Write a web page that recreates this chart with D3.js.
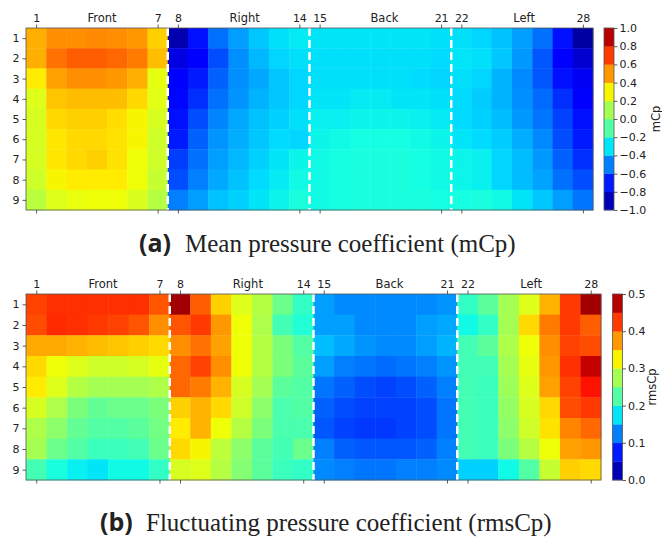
<!DOCTYPE html>
<html>
<head>
<meta charset="utf-8">
<script src="https://cdn.jsdelivr.net/npm/d3@7"></script>
<style>
  body { margin: 0; background: #fff; }
  svg text { font-family: "DejaVu Sans", sans-serif; fill: #222; }
</style>
</head>
<body>
<div id="chart"></div>
<script>
// tap numbers (columns) and level numbers (rows)
var rowLabels = [1, 2, 3, 4, 5, 6, 7, 8, 9];
var colTicks = [1, 7, 8, 14, 15, 21, 22, 28];
var faceNames = ["Front", "Right", "Back", "Left"];
var faceLabelPos = [4.25, 11.3, 18.2, 25.1];
var faceBreaks = [7.5, 14.5, 21.5];

// mean pressure coefficient, rows 1..9, 7 taps per face
var mcpFront = [
  [0.45, 0.52, 0.52, 0.53, 0.52, 0.50, 0.38],
  [0.45, 0.58, 0.62, 0.62, 0.60, 0.56, 0.42],
  [0.32, 0.48, 0.52, 0.52, 0.50, 0.45, 0.26],
  [0.24, 0.40, 0.42, 0.42, 0.42, 0.36, 0.25],
  [0.22, 0.36, 0.38, 0.38, 0.35, 0.30, 0.22],
  [0.22, 0.33, 0.36, 0.36, 0.34, 0.30, 0.20],
  [0.22, 0.33, 0.36, 0.38, 0.34, 0.28, 0.20],
  [0.20, 0.30, 0.32, 0.32, 0.32, 0.28, 0.18],
  [0.15, 0.24, 0.27, 0.28, 0.28, 0.23, 0.14]
];
var mcpRight = [
  [-0.92, -0.72, -0.53, -0.44, -0.36, -0.31, -0.29],
  [-0.83, -0.75, -0.60, -0.47, -0.39, -0.33, -0.31],
  [-0.76, -0.70, -0.56, -0.47, -0.42, -0.36, -0.33],
  [-0.74, -0.66, -0.53, -0.46, -0.40, -0.36, -0.33],
  [-0.72, -0.60, -0.49, -0.42, -0.37, -0.34, -0.31],
  [-0.70, -0.56, -0.46, -0.41, -0.36, -0.32, -0.33],
  [-0.63, -0.53, -0.44, -0.39, -0.34, -0.30, -0.27],
  [-0.60, -0.50, -0.42, -0.37, -0.32, -0.29, -0.26],
  [-0.50, -0.44, -0.37, -0.34, -0.30, -0.27, -0.24]
];
var mcpBack = [
  [-0.30, -0.30, -0.30, -0.30, -0.30, -0.30, -0.31],
  [-0.31, -0.31, -0.31, -0.31, -0.31, -0.31, -0.32],
  [-0.31, -0.31, -0.31, -0.31, -0.31, -0.32, -0.33],
  [-0.30, -0.30, -0.29, -0.29, -0.30, -0.30, -0.31],
  [-0.28, -0.28, -0.27, -0.27, -0.27, -0.28, -0.29],
  [-0.27, -0.26, -0.25, -0.25, -0.25, -0.26, -0.27],
  [-0.26, -0.25, -0.24, -0.24, -0.24, -0.25, -0.26],
  [-0.26, -0.25, -0.24, -0.24, -0.24, -0.25, -0.26],
  [-0.26, -0.25, -0.24, -0.24, -0.24, -0.24, -0.25]
];
var mcpLeft = [
  [-0.31, -0.33, -0.37, -0.44, -0.53, -0.72, -0.94],
  [-0.30, -0.31, -0.36, -0.45, -0.58, -0.75, -0.86],
  [-0.31, -0.33, -0.40, -0.48, -0.58, -0.72, -0.80],
  [-0.32, -0.35, -0.40, -0.47, -0.54, -0.66, -0.76],
  [-0.32, -0.34, -0.38, -0.45, -0.52, -0.62, -0.72],
  [-0.30, -0.32, -0.35, -0.41, -0.48, -0.60, -0.70],
  [-0.27, -0.28, -0.33, -0.38, -0.45, -0.56, -0.66],
  [-0.27, -0.28, -0.33, -0.38, -0.43, -0.53, -0.60],
  [-0.25, -0.24, -0.26, -0.30, -0.36, -0.44, -0.52]
];

// fluctuating (rms) pressure coefficient
var rmsFront = [
  [0.42, 0.43, 0.43, 0.43, 0.43, 0.43, 0.41],
  [0.415, 0.433, 0.43, 0.425, 0.42, 0.41, 0.38],
  [0.365, 0.365, 0.36, 0.355, 0.35, 0.345, 0.34],
  [0.34, 0.32, 0.31, 0.30, 0.30, 0.305, 0.315],
  [0.33, 0.31, 0.285, 0.275, 0.275, 0.275, 0.28],
  [0.305, 0.28, 0.25, 0.235, 0.24, 0.24, 0.25],
  [0.28, 0.26, 0.235, 0.225, 0.225, 0.23, 0.245],
  [0.275, 0.24, 0.225, 0.21, 0.21, 0.215, 0.24],
  [0.215, 0.19, 0.18, 0.175, 0.185, 0.185, 0.205]
];
var rmsRight = [
  [0.485, 0.405, 0.345, 0.31, 0.285, 0.24, 0.205],
  [0.41, 0.425, 0.375, 0.32, 0.28, 0.215, 0.195],
  [0.38, 0.395, 0.37, 0.32, 0.285, 0.25, 0.225],
  [0.40, 0.42, 0.38, 0.32, 0.285, 0.25, 0.23],
  [0.40, 0.39, 0.36, 0.305, 0.275, 0.23, 0.225],
  [0.345, 0.36, 0.34, 0.30, 0.26, 0.22, 0.225],
  [0.33, 0.36, 0.32, 0.285, 0.25, 0.22, 0.22],
  [0.34, 0.325, 0.29, 0.26, 0.23, 0.215, 0.24],
  [0.305, 0.31, 0.285, 0.255, 0.23, 0.21, 0.205]
];
var rmsBack = [
  [0.14, 0.13, 0.13, 0.13, 0.13, 0.13, 0.135],
  [0.14, 0.14, 0.13, 0.13, 0.13, 0.14, 0.145],
  [0.155, 0.145, 0.135, 0.13, 0.13, 0.14, 0.15],
  [0.14, 0.125, 0.12, 0.115, 0.12, 0.125, 0.135],
  [0.12, 0.11, 0.10, 0.095, 0.10, 0.11, 0.125],
  [0.11, 0.10, 0.095, 0.095, 0.095, 0.10, 0.12],
  [0.105, 0.095, 0.09, 0.09, 0.095, 0.10, 0.12],
  [0.125, 0.11, 0.105, 0.105, 0.105, 0.11, 0.125],
  [0.13, 0.125, 0.12, 0.12, 0.125, 0.125, 0.13]
];
var rmsLeft = [
  [0.205, 0.23, 0.275, 0.31, 0.36, 0.425, 0.485],
  [0.185, 0.205, 0.275, 0.34, 0.39, 0.425, 0.405],
  [0.215, 0.23, 0.28, 0.32, 0.38, 0.42, 0.415],
  [0.215, 0.215, 0.275, 0.315, 0.375, 0.43, 0.47],
  [0.215, 0.21, 0.27, 0.31, 0.37, 0.42, 0.445],
  [0.215, 0.21, 0.265, 0.305, 0.34, 0.415, 0.425],
  [0.215, 0.21, 0.26, 0.30, 0.335, 0.385, 0.40],
  [0.215, 0.21, 0.25, 0.285, 0.32, 0.37, 0.375],
  [0.165, 0.165, 0.185, 0.225, 0.295, 0.345, 0.34]
];

var mcpTicks = [-1.0, -0.8, -0.6, -0.4, -0.2, 0.0, 0.2, 0.4, 0.6, 0.8, 1.0];
var rmsTicks = [0.0, 0.1, 0.2, 0.3, 0.4, 0.5];

// matplotlib "jet"
var jetR = d3.scaleLinear().domain([0, 0.35, 0.66, 0.89, 1]).range([0, 0, 1, 1, 0.5]).clamp(true);
var jetG = d3.scaleLinear().domain([0, 0.125, 0.375, 0.64, 0.91, 1]).range([0, 0, 1, 1, 0, 0]).clamp(true);
var jetB = d3.scaleLinear().domain([0, 0.11, 0.34, 0.65, 1]).range([0.5, 1, 1, 0, 0]).clamp(true);
function jet(t) {
  return d3.rgb(jetR(t) * 255, jetG(t) * 255, jetB(t) * 255).toString();
}

function joinFaces(faces) {
  return rowLabels.map(function(r, i) {
    return [].concat(faces[0][i], faces[1][i], faces[2][i], faces[3][i]);
  });
}

var svg = d3.select("#chart").append("svg")
  .attr("width", 662).attr("height", 542);

function drawPanel(p) {
  var grid = joinFaces(p.faces);
  var cells = [];
  grid.forEach(function(row, i) {
    row.forEach(function(v, j) { cells.push({row: i + 1, col: j + 1, v: v}); });
  });

  var x = d3.scaleLinear().domain([0.5, 28.5]).range([p.left, p.right]);
  var y = d3.scaleLinear().domain([0.5, 9.5]).range([p.top, p.bottom]);
  var norm = d3.scaleLinear().domain(p.domain).range([0, 1]);
  var cw = x(1) - x(0), ch = y(1) - y(0);

  var g = svg.append("g");

  g.selectAll("rect.cell")
    .data(cells)
    .enter().append("rect")
      .attr("class", "cell")
      .attr("x", d => x(d.col - 0.5))
      .attr("y", d => y(d.row - 0.5))
      .attr("width", cw + 0.4)
      .attr("height", ch + 0.4)
      .attr("fill", d => jet(norm(d.v)));

  // face separators
  g.selectAll("line.sep")
    .data(faceBreaks)
    .enter().append("line")
      .attr("x1", d => x(d)).attr("x2", d => x(d))
      .attr("y1", p.top).attr("y2", p.bottom)
      .attr("stroke", "#fff")
      .attr("stroke-width", 2.5)
      .attr("stroke-dasharray", "8,4");

  g.append("rect")
    .attr("x", p.left).attr("y", p.top)
    .attr("width", p.right - p.left).attr("height", p.bottom - p.top)
    .attr("fill", "none").attr("stroke", "#555").attr("stroke-width", 0.8);

  // axes
  var xTop = d3.axisTop(x).tickValues(colTicks).tickSize(3.5).tickPadding(3);
  g.append("g").attr("transform", "translate(0," + p.top + ")").call(xTop);
  var xBot = d3.axisBottom(x).tickValues(colTicks).tickSize(3.5).tickFormat("");
  g.append("g").attr("transform", "translate(0," + p.bottom + ")").call(xBot);
  var yAx = d3.axisLeft(y).tickValues(rowLabels).tickSize(3.5).tickPadding(3);
  g.append("g").attr("transform", "translate(" + p.left + ",0)").call(yAx);
  g.selectAll(".domain").remove();
  g.selectAll(".tick line").attr("stroke", "#333").attr("stroke-width", 0.8);
  g.selectAll(".tick text").style("font-size", "11px").attr("fill", "#222");

  g.selectAll("text.face")
    .data(faceNames)
    .enter().append("text")
      .attr("class", "face")
      .attr("x", (d, i) => x(faceLabelPos[i]))
      .attr("y", p.top - 6.5)
      .attr("text-anchor", "middle")
      .style("font-size", "11.5px")
      .text(d => d);

  // colour bar, 10 discrete bands
  var cb = d3.scaleLinear().domain(p.domain).range([p.bottom, p.top]);
  var step = (p.domain[1] - p.domain[0]) / 10;
  var bands = d3.range(10).map(i => p.domain[0] + i * step);
  g.selectAll("rect.band")
    .data(bands)
    .enter().append("rect")
      .attr("class", "band")
      .attr("x", p.cbX)
      .attr("y", d => cb(d + step))
      .attr("width", 10)
      .attr("height", d => cb(d) - cb(d + step) + 0.3)
      .attr("fill", d => jet(norm(d + step / 2)));
  g.append("rect")
    .attr("x", p.cbX).attr("y", p.top)
    .attr("width", 10).attr("height", p.bottom - p.top)
    .attr("fill", "none").attr("stroke", "#555").attr("stroke-width", 0.8);

  var cbAx = d3.axisRight(cb).tickValues(p.ticks).tickSize(3.5).tickPadding(2)
    .tickFormat(d => d3.format(".1f")(d).replace("-", "\u2212"));
  var cbg = g.append("g").attr("transform", "translate(" + (p.cbX + 10) + ",0)").call(cbAx);
  cbg.select(".domain").remove();
  cbg.selectAll(".tick line").attr("stroke", "#333").attr("stroke-width", 0.8);
  cbg.selectAll(".tick text").style("font-size", "11px").attr("fill", "#222");

  g.append("text")
    .attr("transform", "translate(" + p.labelX + "," + ((p.top + p.bottom) / 2) + ") rotate(-90)")
    .attr("text-anchor", "middle")
    .attr("dy", "0.35em")
    .style("font-size", "11.5px")
    .text(p.label);

  // caption
  var cap = svg.append("text")
    .attr("y", p.capY)
    .style("font-size", "25px");
  cap.append("tspan")
    .attr("x", p.capX)
    .style("font-family", "'Open Sans', 'DejaVu Sans', sans-serif")
    .style("font-weight", "bold")
    .text(p.capTag);
  cap.append("tspan")
    .attr("x", p.capX + 46)
    .style("font-family", "'Liberation Serif', 'Times New Roman', serif")
    .text(p.caption);
}

drawPanel({
  faces: [mcpFront, mcpRight, mcpBack, mcpLeft],
  domain: [-1, 1], ticks: mcpTicks, label: "mCp",
  left: 26, right: 593, top: 28, bottom: 210,
  cbX: 604, labelX: 656,
  capTag: "(a)", caption: "Mean pressure coefficient (mCp)", capX: 139, capY: 252
});

drawPanel({
  faces: [rmsFront, rmsRight, rmsBack, rmsLeft],
  domain: [0, 0.5], ticks: rmsTicks, label: "rmsCp",
  left: 26, right: 601, top: 294, bottom: 480,
  cbX: 612.5, labelX: 652,
  capTag: "(b)", caption: "Fluctuating pressure coefficient (rmsCp)", capX: 100, capY: 531
});
</script>
</body>
</html>
